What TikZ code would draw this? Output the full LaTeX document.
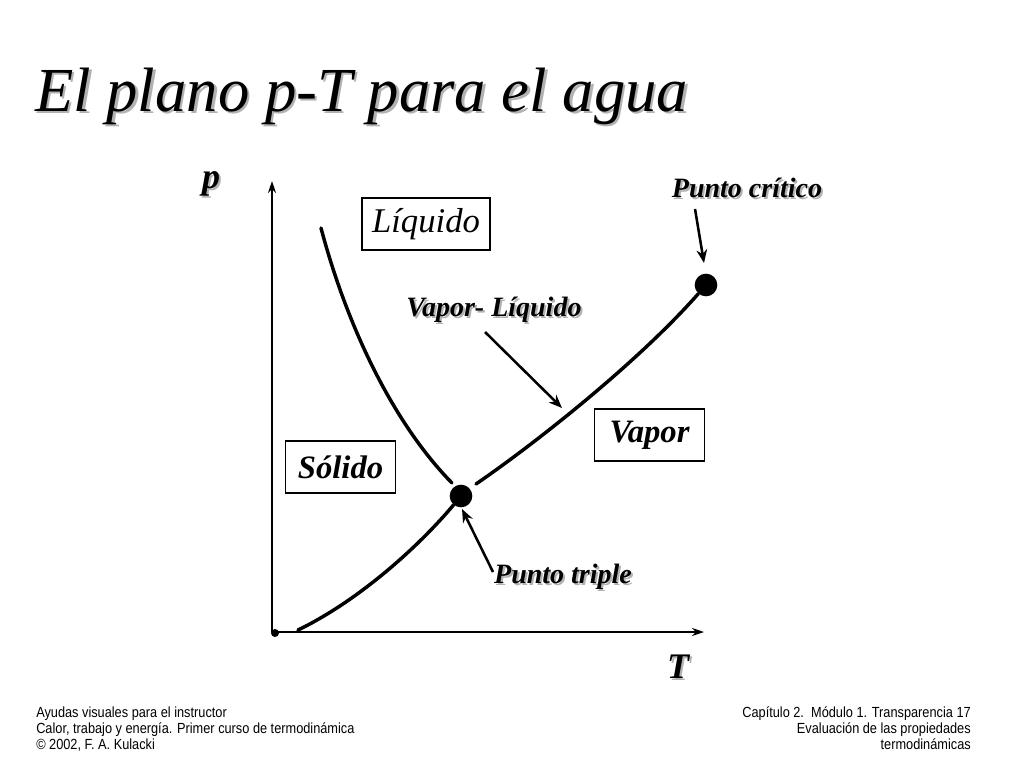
\documentclass[tikz,border=0pt]{standalone}
\usepackage{fontspec}
\setmainfont{Liberation Serif}
\newfontfamily\footfont[FakeStretch=0.87]{Liberation Sans}
\usetikzlibrary{arrows.meta}
\tikzset{
  curve/.style={line width=2.6pt, line cap=round},
  axis/.style={line width=1.6pt, -{Stealth[length=9pt,width=6pt]}},
  pointer/.style={line width=1.9pt, -{Stealth[length=10pt,width=8pt]}},
  region/.style={draw, line width=0.9pt, inner sep=0pt, minimum height=39pt},
  lbl/.style={font=\fontsize{21}{24}\selectfont\bfseries\itshape, inner sep=0pt},
  biglbl/.style={font=\fontsize{27}{30}\selectfont\bfseries\itshape, inner sep=0pt},
  shadow/.style={text=black!30},
  foot/.style={font=\footfont\fontsize{11}{12}\selectfont, inner sep=0pt},
  dot/.style={circle, fill=black, inner sep=0pt, minimum size=17pt}
}
\begin{document}
\begin{tikzpicture}[x=0.75pt,y=-0.75pt]
\useasboundingbox (0,0) rectangle (1024,768);
% title
\node[shadow, anchor=base west, inner sep=0pt, font=\fontsize{47}{50}\selectfont\itshape] (titleS) at (37.5,113.5) {El plano p-T para el agua};
\node[anchor=base west, inner sep=0pt, font=\fontsize{47}{50}\selectfont\itshape] (title) at (35,111) {El plano p-T para el agua};
% axes
\coordinate (O) at (272,632);
\coordinate (Ytop) at (272,181);
\coordinate (Xend) at (704,632);
\draw[axis] (O) -- (Ytop);
\draw[axis] (O) -- (Xend);
\fill (275,633) circle (4);
% axis labels
\node[biglbl, shadow] (pS) at (213,186) {p};
\node[biglbl] (p) at (211,184) {p};
\node[biglbl, shadow] (TS) at (680,669) {T};
\node[biglbl] (T) at (678,667) {T};
% region boxes
\node[region, minimum width=96pt, font=\fontsize{26}{30}\selectfont\itshape] (liq) at (426,224) {Líquido};
\node[region, minimum width=83pt, font=\fontsize{24.5}{28}\selectfont\bfseries\itshape] (sol) at (340.5,467) {Sólido};
\node[region, minimum width=82pt, font=\fontsize{24.5}{28}\selectfont\bfseries\itshape] (vap) at (649.5,435) {Vapor};
% points
\node[dot] (tp) at (461,496) {};
\node[dot] (cp) at (706,285) {};
% curves
\draw[curve] (321,228) .. controls (348,330) and (395,425) .. (452,483);
\draw[curve] (298,630) .. controls (360,600) and (420,545) .. (tp);
\draw[curve] (476,484) .. controls (540,440) and (640,360) .. (cp);
% labels with pointers
\node[lbl, shadow] (pcS) at (749,190) {Punto crítico};
\node[lbl] (pc) at (747,188) {Punto crítico};
\coordinate (pcA) at (695,209);
\coordinate (pcB) at (704,263);
\draw[pointer] (pcA) -- (pcB);
\node[lbl, shadow] (vlS) at (496,312) {Vapor- Líquido};
\node[lbl] (vl) at (494,310) {Vapor- Líquido};
\coordinate (vlA) at (485,332);
\coordinate (vlB) at (562,408);
\draw[pointer] (vlA) -- (vlB);
\node[lbl, shadow] (ptS) at (565,579) {Punto triple};
\node[lbl] (pt) at (563,577) {Punto triple};
\coordinate (ptA) at (493,572);
\coordinate (ptB) at (462,509);
\draw[pointer] (ptA) -- (ptB);
% footer
\node[foot, anchor=base west] (f1) at (36,717) {Ayudas visuales para el instructor};
\node[foot, anchor=base west] (f2) at (36,733) {Calor, trabajo y energía. Primer curso de termodinámica};
\node[foot, anchor=base west] (f3) at (36,749) {© 2002, F. A. Kulacki};
\node[foot, anchor=base east] (g1) at (971,717) {Capítulo 2.\ \ Módulo 1. Transparencia 17};
\node[foot, anchor=base east] (g2) at (971,733) {Evaluación de las propiedades};
\node[foot, anchor=base east] (g3) at (971,749) {termodinámicas};
\end{tikzpicture}
\end{document}
